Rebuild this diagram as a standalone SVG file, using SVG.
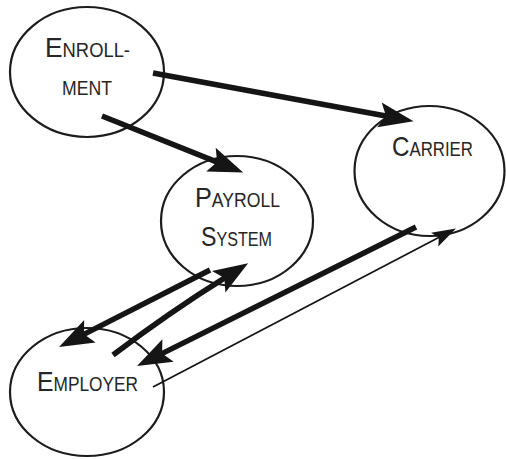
<svg xmlns="http://www.w3.org/2000/svg" width="506" height="459" viewBox="0 0 506 459">
<defs>
<style>
.node ellipse{fill:#fff;stroke:#1c1c1c;stroke-width:2.2}
.lbl{font-family:"Liberation Sans","Open Sans",sans-serif;font-size:19.5px;fill:#262626;text-anchor:middle}
.cap{font-size:28px}
.thick{fill:none;stroke:#151515;stroke-width:5.5}
.thin{fill:none;stroke:#151515;stroke-width:1.8}
</style>
<marker id="ah" markerUnits="userSpaceOnUse" orient="auto" markerWidth="60" markerHeight="40" refX="0" refY="0" viewBox="-10 -15 40 30" overflow="visible">
<path d="M20,0 L-6,-9.5 L-1,0 L-6,9.5 Z" fill="#151515"/>
</marker>
<marker id="ahs" markerUnits="userSpaceOnUse" orient="auto" markerWidth="40" markerHeight="30" refX="0" refY="0" viewBox="-10 -10 30 20" overflow="visible">
<path d="M13,0 L-5,-5.8 L-1.5,0 L-5,5.8 Z" fill="#151515"/>
</marker>
</defs>
<rect width="506" height="459" fill="#fff"/>
<g id="enrollment" class="node">
<ellipse cx="87" cy="72" rx="77" ry="65"/>
<text class="lbl" x="87.5" y="57" textLength="85" lengthAdjust="spacingAndGlyphs"><tspan class="cap">E</tspan>NROLL-</text>
<text class="lbl" x="87" y="95" textLength="50" lengthAdjust="spacingAndGlyphs">MENT</text>
</g>
<g id="payroll" class="node">
<ellipse cx="237" cy="221" rx="76" ry="65"/>
<text class="lbl" x="237.5" y="207" textLength="85" lengthAdjust="spacingAndGlyphs"><tspan class="cap">P</tspan>AYROLL</text>
<text class="lbl" x="236.5" y="246" textLength="71" lengthAdjust="spacingAndGlyphs"><tspan class="cap">S</tspan>YSTEM</text>
</g>
<g id="carrier" class="node">
<ellipse cx="429.5" cy="171" rx="75" ry="65"/>
<text class="lbl" x="432.5" y="156" textLength="81" lengthAdjust="spacingAndGlyphs"><tspan class="cap">C</tspan>ARRIER</text>
</g>
<g id="employer" class="node">
<ellipse cx="87" cy="392" rx="77" ry="64"/>
<text class="lbl" x="87.5" y="391" textLength="101" lengthAdjust="spacingAndGlyphs"><tspan class="cap">E</tspan>MPLOYER</text>
</g>
<g id="connectors">
<path class="thick" d="M153,73 L387.3,116.3" marker-end="url(#ah)"/>
<path class="thick" d="M102,116 L218.4,162.6" marker-end="url(#ah)"/>
<path class="thick" d="M210,270 L82.8,334.9" marker-end="url(#ah)"/>
<path class="thick" d="M113,355 Q170,312 225.5,277.4" marker-end="url(#ah)"/>
<path class="thick" d="M416,227 L160.9,354.1" marker-end="url(#ah)"/>
<path class="thin" d="M153,387 L440.6,236.5" marker-end="url(#ahs)"/>
</g>
</svg>
